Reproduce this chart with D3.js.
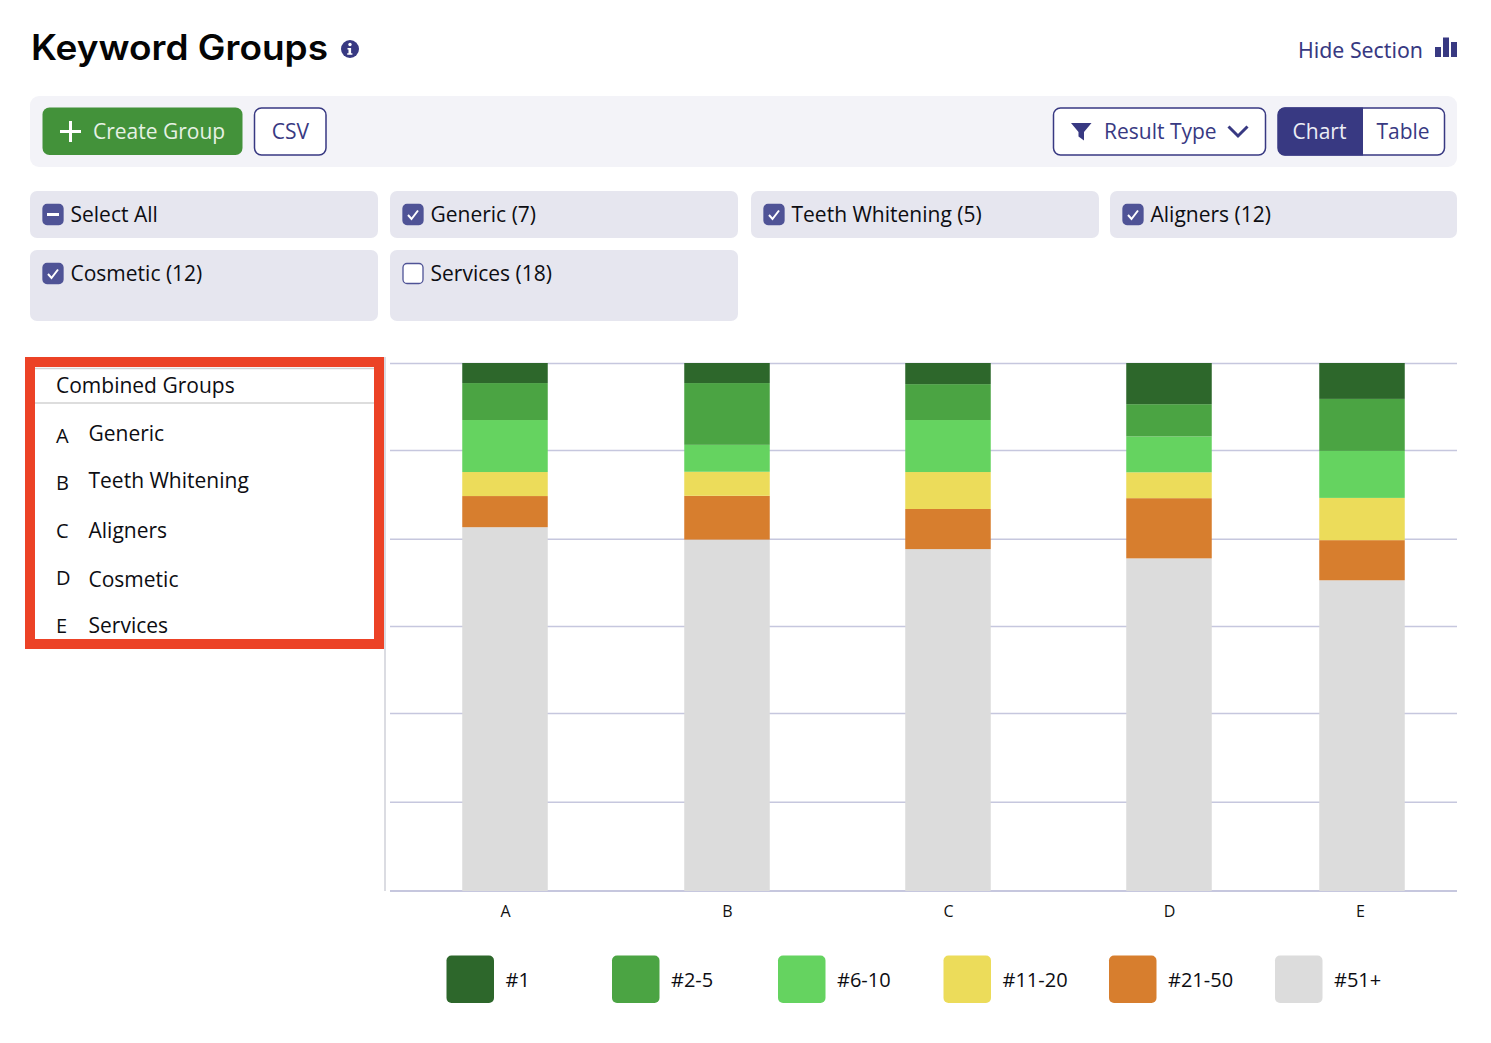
<!DOCTYPE html>
<html>
<head>
<meta charset="utf-8">
<script src="https://cdn.jsdelivr.net/npm/d3@7"></script>
<style>
html,body{margin:0;padding:0;background:#fff;overflow:hidden}
svg{display:block}
text{font-family:"Open Sans",sans-serif}
.axis .domain{display:none}
</style>
</head>
<body>
<svg id="c" width="1491" height="1043"></svg>
<script>
// ---------- data ----------
const categories = ["A","B","C","D","E"];
const seriesNames = ["#1","#2-5","#6-10","#11-20","#21-50","#51+"];
const seriesColors = ["#2d672b","#4ba443","#65d360","#ecdc5a","#d77e2e","#dcdcdc"];
const rank1    = [3.8, 3.8, 4.0, 7.8, 6.8];
const rank2to5 = [7.0,11.7, 6.8, 6.1, 9.85];
const rank6to10= [9.85,5.1, 9.85,6.8, 8.9];
const rank11to20=[4.55,4.55,7.0, 4.9, 8.0];
const rank21to50=[5.9, 8.3, 7.6,11.4, 7.6];
const rank51plus=[68.9,66.55,64.75,63.0,58.85];
const gridTicks = [0,16.9,33.7,50.2,66.7,83.5,100];
const groupKeys = ["A","B","C","D","E"];
const groupNames = ["Generic","Teeth Whitening","Aligners","Cosmetic","Services"];
const filterLabels = ["Select All","Generic (7)","Teeth Whitening (5)","Aligners (12)","Cosmetic (12)","Services (18)"];
const filterStates = ["mixed","on","on","on","on","off"];

// ---------- layout ----------
const NAVY="#383982", CHECK="#4f5396", CARD="#e6e6ef", INK="#0d0d12";
const svg=d3.select("#c");
const rr=(x,y,w,h,r,fill,stroke,sw)=>svg.append("rect").attr("x",x).attr("y",y).attr("width",w).attr("height",h).attr("rx",r)
  .attr("fill",fill).attr("stroke",stroke||"none").attr("stroke-width",sw||0);
const tx=(x,y,s,size,fill,opts={})=>svg.append("text").attr("x",x).attr("y",y).text(s).attr("font-size",size).attr("fill",fill)
  .attr("font-weight",opts.w||400).attr("text-anchor",opts.a||"start").style("font-family",opts.f||null);

// header
tx(31,60,"Keyword Groups",35,"#050505",{w:600,f:"Inter, sans-serif"}).attr("textLength",297).attr("lengthAdjust","spacingAndGlyphs");
svg.append("circle").attr("cx",350).attr("cy",49).attr("r",9).attr("fill",NAVY);
svg.append("circle").attr("cx",350).attr("cy",44.5).attr("r",1.7).attr("fill","#fff");
svg.append("path").attr("d","M347.5 48h3.6v5.2h1.3v1.6h-5.2v-1.6h1.3v-3.6h-1z").attr("fill","#fff");
tx(1423,58,"Hide Section",22,NAVY,{a:"end",f:"'Noto Sans',sans-serif"}).attr("textLength",125).attr("lengthAdjust","spacingAndGlyphs");
svg.append("path").attr("d","M1435 47h6v10h-6zM1443 37.500h6v19.500h-6zM1451 42h6v15h-6z").attr("fill",NAVY);

// toolbar
rr(30,96,1427,71,9,"#f3f3f8");
rr(42.500,107.500,200,47.500,7,"#43923a");
svg.append("path").attr("d","M60 131.500h21M70.500 121v21").attr("stroke","#fff").attr("stroke-width",3).attr("fill","none");
tx(93,139,"Create Group",21,"#e6f1e4");
rr(254.500,108,71.500,47,7,"#fff",NAVY,1.500);
tx(290.500,139,"CSV",21,NAVY,{a:"middle"});
rr(1053.500,108,212,47,7,"#fff",NAVY,1.500);
svg.append("path").attr("d","M1071 123h20.500l-7.500 9v8.500l-5.500-4v-4.500z").attr("fill",NAVY);
tx(1104,139,"Result Type",21,NAVY);
svg.append("path").attr("d","M1228.500 126.500l9.500 9.500l9.500-9.500").attr("stroke",NAVY).attr("stroke-width",3).attr("fill","none");
rr(1278,108,166.500,47,7,"#fff",NAVY,1.500);
svg.append("path").attr("d","M1285 107.500h78v48h-78a7 7 0 0 1-7-7v-34a7 7 0 0 1 7-7z").attr("fill",NAVY);
tx(1319.500,139,"Chart",21,"#ecedf5",{a:"middle"});
tx(1403,139,"Table",21,NAVY,{a:"middle"});

// filter cards
const cards=[[30,191,348,47],[390,191,348,47],[751,191,348,47],[1110,191,347,47],[30,250,348,71],[390,250,348,71]];
cards.forEach((c,i)=>{
  rr(c[0],c[1],c[2],c[3],7,CARD);
  const bx=c[0]+13, by=c[1]+13.500, st=filterStates[i];
  rr(bx,by,20,20,4,st==="off"?"#fff":CHECK,CHECK,1.300);
  if(st==="on") svg.append("path").attr("d",`M${bx+5} ${by+10.500}l3.500 4l6.500-8.500`).attr("stroke","#fff").attr("stroke-width",2).attr("fill","none");
  if(st==="mixed") svg.append("path").attr("d",`M${bx+4} ${by+10}h12`).attr("stroke","#fff").attr("stroke-width",3).attr("fill","none");
  tx(c[0]+40.500,c[1]+31,filterLabels[i],21,INK);
});

// ---------- chart ----------
const y=d3.scaleLinear().domain([0,100]).range([891,363]);
const x=d3.scaleOrdinal().domain(categories).range([505,727,948,1169,1362]);
const barW=85.500;
const rows=categories.map((c,i)=>({cat:c,"#1":rank1[i],"#2-5":rank2to5[i],"#6-10":rank6to10[i],"#11-20":rank11to20[i],"#21-50":rank21to50[i],"#51+":rank51plus[i]}));
// stack from the top downward: #51+ sits at the baseline
const stacked=d3.stack().keys(seriesNames.slice().reverse())(rows);
const color=d3.scaleOrdinal().domain(seriesNames).range(seriesColors);

// gridlines
const grid=svg.append("g").attr("class","axis").attr("transform","translate(1457,0)")
  .call(d3.axisLeft(y).tickValues(gridTicks.slice(1)).tickSize(1067).tickFormat(""));
grid.selectAll("line").attr("stroke","#c6c7de").attr("stroke-width",1.500);
svg.append("line").attr("x1",390).attr("x2",1457).attr("y1",y(0)).attr("y2",y(0)).attr("stroke","#c6c7de").attr("stroke-width",2);
svg.append("line").attr("x1",385).attr("x2",385).attr("y1",357).attr("y2",y(0)).attr("stroke","#cfd0d8").attr("stroke-width",1.500);

// bars
svg.append("g").selectAll("g").data(stacked).join("g").attr("fill",d=>color(d.key))
  .selectAll("rect").data(d=>d).join("rect")
  .attr("x",d=>x(d.data.cat)-barW/2).attr("width",barW)
  .attr("y",d=>y(d[1])).attr("height",d=>y(d[0])-y(d[1]));

// x axis labels
const xa=svg.append("g").attr("class","axis").attr("transform","translate(0,891)")
  .call(d3.axisBottom(x).tickSize(0).tickPadding(15));
xa.selectAll("text").attr("font-size",16).attr("fill","#111").style("font-family","'Open Sans',sans-serif");
xa.selectAll(".tick").filter(d=>d==="E").select("text").attr("dx",-2);

// legend
const legX=d3.scaleOrdinal().domain(seriesNames).range([446.500,612,778,943.500,1109,1275]);
const leg=svg.append("g").selectAll("g").data(seriesNames).join("g");
leg.append("rect").attr("x",d=>legX(d)).attr("y",955.500).attr("width",47.500).attr("height",47.500).attr("rx",5).attr("fill",d=>color(d));
leg.append("text").attr("x",d=>legX(d)+59).attr("y",986.500).attr("font-size",20).attr("fill",INK).text(d=>d);

// red-boxed group list
svg.append("rect").attr("x",30).attr("y",362).attr("width",349).attr("height",282).attr("fill","#fff").attr("stroke","#ec4226").attr("stroke-width",10);
svg.append("path").attr("d","M35 368.500H374M35 403H374").attr("stroke","#d2d2d2").attr("stroke-width",1.500).attr("fill","none");
tx(56,393,"Combined Groups",21,INK);
const keyYs=[443,490,538,585,633], nameYs=[441,488,538,587,633];
groupKeys.forEach((k,i)=>{
  tx(56,keyYs[i],k,20,INK);
  tx(88.500,nameYs[i],groupNames[i],21,INK);
});
</script>
</body>
</html>
